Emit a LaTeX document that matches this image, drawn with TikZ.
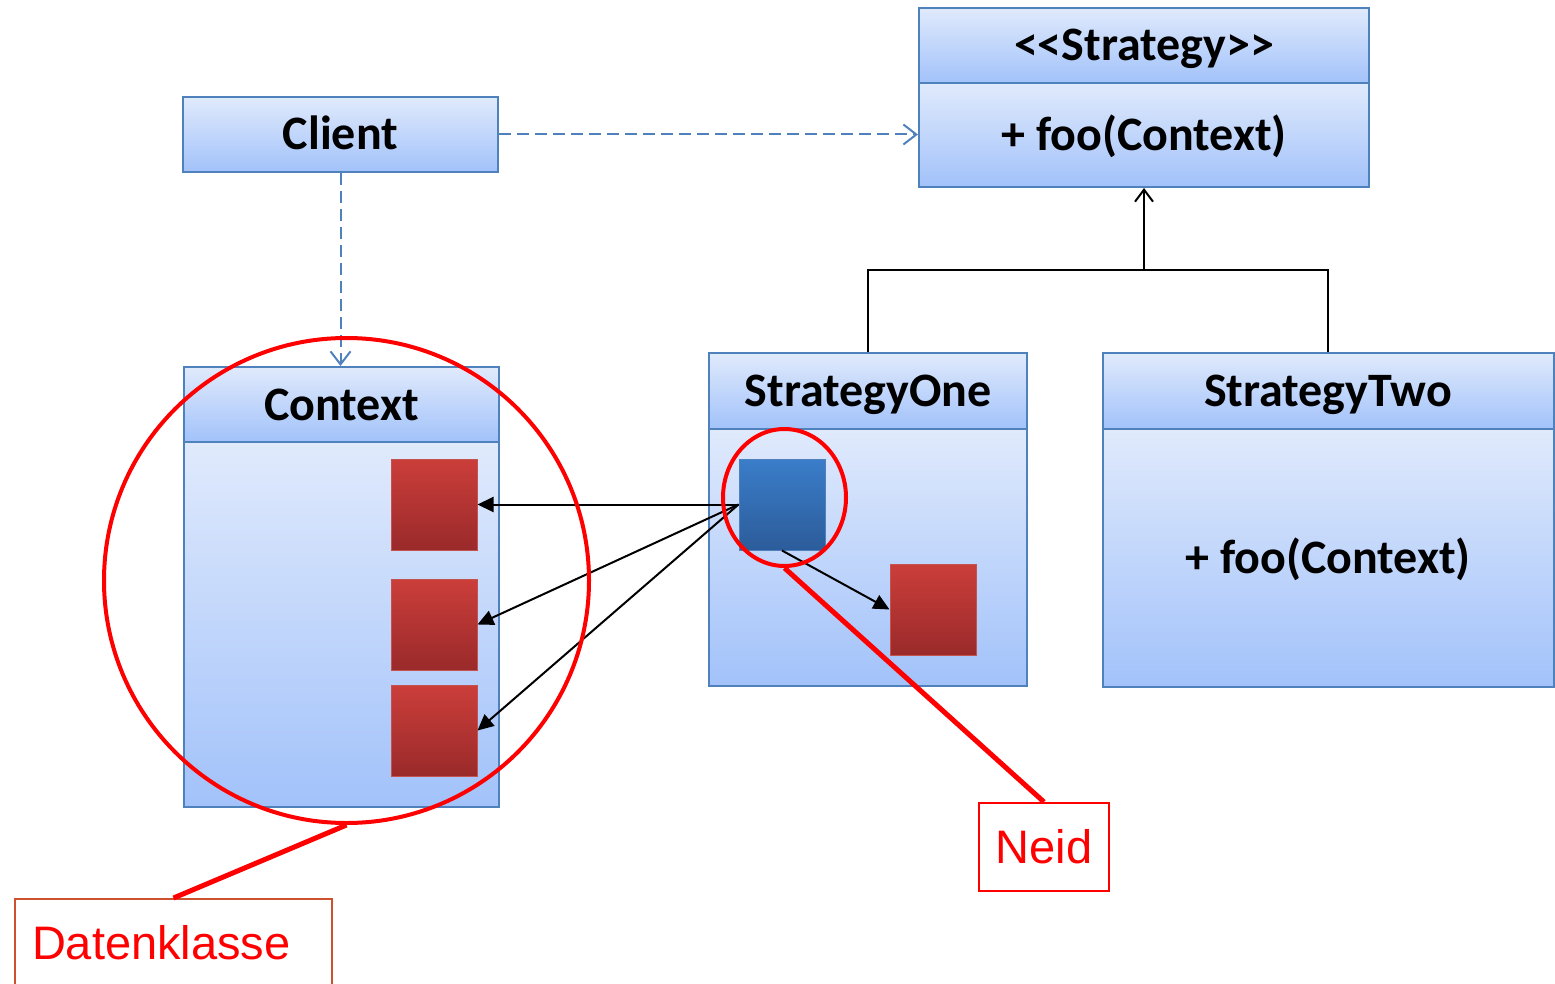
\documentclass[tikz,border=0pt]{standalone}
\usepackage{fontspec}
\setmainfont{Carlito}
\newfontfamily\arialfont{Liberation Sans}
\usetikzlibrary{arrows.meta,shapes.geometric}
\definecolor{umlborder}{RGB}{79,129,189}
\definecolor{umltop}{RGB}{224,234,252}
\definecolor{umlbot}{RGB}{162,194,250}
\definecolor{sqtop}{RGB}{203,62,58}
\definecolor{sqbot}{RGB}{154,42,42}
\definecolor{sqborder}{RGB}{196,82,78}
\definecolor{bltop}{RGB}{58,125,201}
\definecolor{blbot}{RGB}{44,92,154}
\definecolor{dkborder}{RGB}{206,80,44}
\definecolor{dashblue}{RGB}{79,129,189}
\tikzset{
  umlbox/.style={draw=umlborder, line width=2pt, top color=umltop, bottom color=umlbot,
    inner sep=0pt, text height=31pt, text depth=0pt, font=\fontsize{48}{57}\selectfont\bfseries},
  redsq/.style={draw=sqborder, line width=1pt, top color=sqtop, bottom color=sqbot,
    minimum width=86pt, minimum height=91pt, inner sep=0pt},
  bluesq/.style={draw=umlborder, line width=1pt, top color=bltop, bottom color=blbot,
    minimum width=86pt, minimum height=91pt, inner sep=0pt},
  dep/.style={draw=dashblue, line width=2pt, dash pattern=on 12pt off 6pt,
    -{Straight Barb[length=13pt,width=20pt,line width=2pt]}},
  inh/.style={draw=black, line width=2pt},
  msg/.style={draw=black, line width=2pt, -{Triangle[length=16pt,width=15pt]}},
  redmark/.style={draw=red, line width=4pt, inner sep=0pt},
  pointer/.style={draw=red, line width=5pt},
  labelbox/.style={line width=2pt, fill=white, text=red, inner sep=0pt,
    font=\arialfont\fontsize{47}{56}\selectfont}
}
\begin{document}
\begin{tikzpicture}[x=1pt,y=-1pt]
\useasboundingbox (0,0) rectangle (1555,984);
% Client
\node[umlbox, minimum width=315pt, minimum height=75pt] (client) at (340.5,134.5) {Client};
% Strategy interface
\node[umlbox, minimum width=450pt, minimum height=75pt] (strathead) at (1144,45.5) {<\kern0pt<Strategy>\kern0pt>};
\node[umlbox, minimum width=450pt, minimum height=104pt] (stratbody) at (1144,135) {+ foo(Context)};
% Context
\node[umlbox, minimum width=315pt, minimum height=75pt] (ctxhead) at (341.5,404.5) {Context};
\node[umlbox, minimum width=315pt, minimum height=365pt] (ctxbody) at (341.5,624.5) {};
% StrategyOne
\node[umlbox, minimum width=318pt, minimum height=76pt] (onehead) at (868,391) {StrategyOne};
\node[umlbox, minimum width=318pt, minimum height=257pt] (onebody) at (868,557.5) {};
% StrategyTwo
\node[umlbox, minimum width=451pt, minimum height=76pt] (twohead) at (1328,391) {StrategyTwo};
\node[umlbox, minimum width=451pt, minimum height=258pt] (twobody) at (1328,558) {+ foo(Context)};
% data squares
\node[redsq] (c1) at (434,504.5) {};
\node[redsq] (c2) at (434,624.5) {};
\node[redsq] (c3) at (434,730.5) {};
\node[redsq] (s1) at (933,609.5) {};
\node[bluesq] (blue) at (782,504.5) {};
% connectors
\draw[dep] (client.east) -- (client.east -| stratbody.west);
\draw[dep] (client.south) -- (client.south |- ctxhead.north);
\coordinate (join) at (1144,270);
\draw[inh] (onehead.north) |- (join) -| (twohead.north);
\draw[inh, -{Straight Barb[length=12pt,width=18pt,line width=2pt]}] (join) -- (stratbody.south);
\draw[msg] (blue.west) -- (c1.east);
\draw[msg] (blue.west) -- (c2.east);
\draw[msg] (blue.west) -- (c3.east);
\draw[msg] (blue.south) -- (s1.west);
% red markings
\node[redmark, circle, minimum size=485pt] (bigc) at (346.5,580.5) {};
\node[redmark, ellipse, minimum width=123pt, minimum height=137pt] (smallc) at (784.5,497.5) {};
\node[labelbox, draw=dkborder, anchor=north west, minimum height=88pt, text width=283pt,
  inner xsep=17pt, align=left] (dk) at (14,898) {Datenklasse};
\node[labelbox, draw=red, minimum width=130pt, minimum height=88pt] (neid) at (1044,847) {Neid};
\draw[pointer] (bigc.south) -- (dk.north);
\draw[pointer] (smallc.south) -- (neid.north);
\end{tikzpicture}
\end{document}
